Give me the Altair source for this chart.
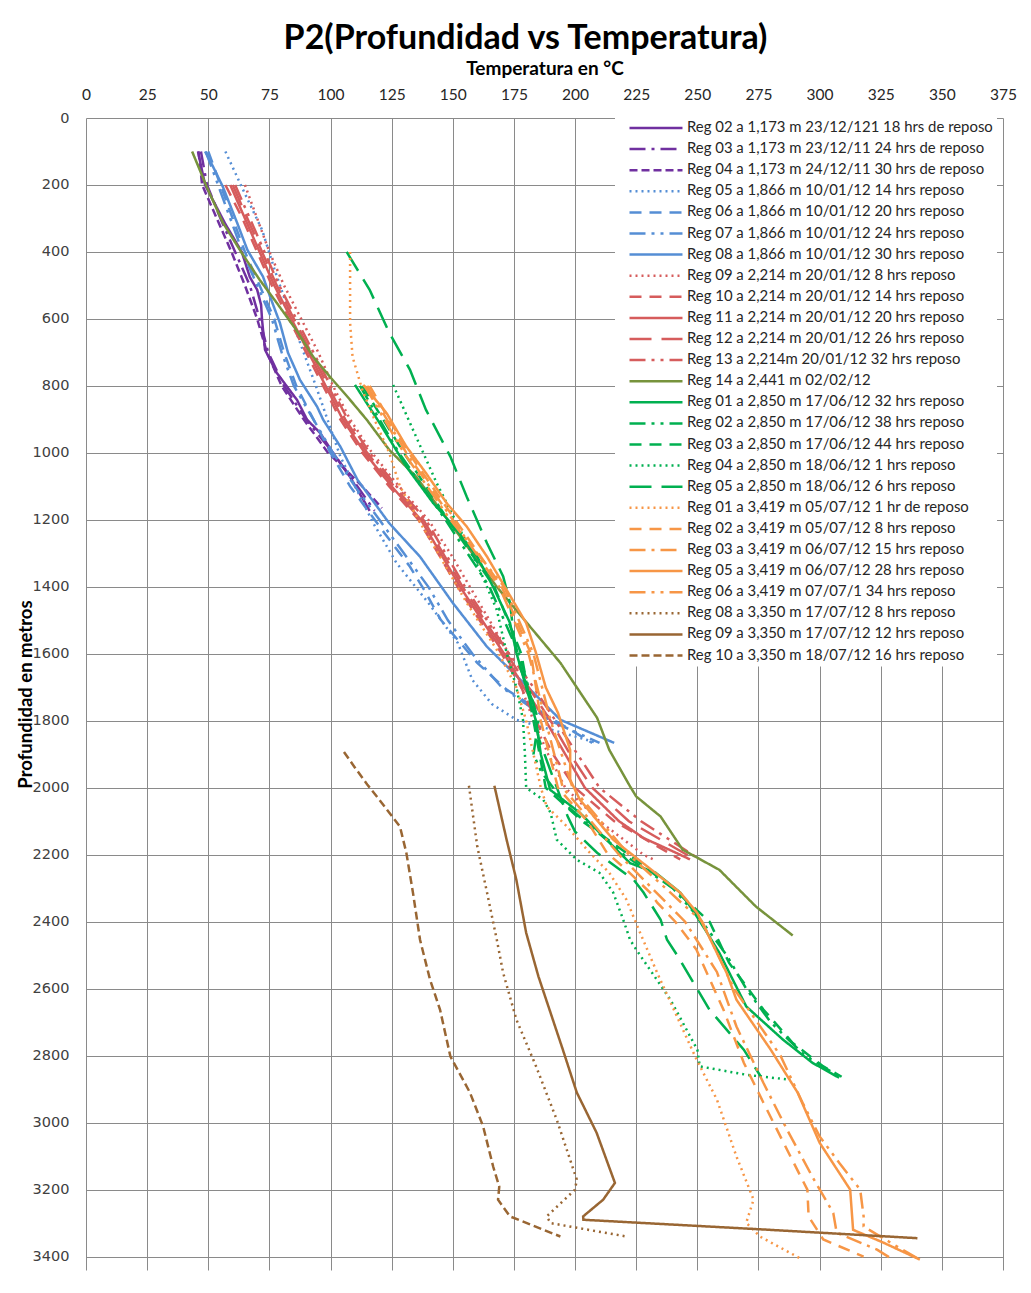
import altair as alt
import pandas as pd

CHART_TITLE = "P2(Profundidad vs Temperatura)"
X_TITLE = "Temperatura en °C"
Y_TITLE = "Profundidad en metros"

temp_ticks = list(range(0, 376, 25))
depth_ticks = list(range(0, 3401, 200))

series_labels = [
    "Reg 02 a 1,173 m 23/12/121 18 hrs de reposo",
    "Reg 03 a 1,173 m 23/12/11 24 hrs de reposo",
    "Reg 04 a 1,173 m 24/12/11 30 hrs de reposo",
    "Reg 05 a 1,866 m 10/01/12 14 hrs reposo",
    "Reg 06 a 1,866 m 10/01/12 20 hrs reposo",
    "Reg 07 a 1,866 m 10/01/12 24 hrs reposo",
    "Reg 08 a 1,866 m 10/01/12 30 hrs reposo",
    "Reg 09 a 2,214 m 20/01/12 8 hrs reposo",
    "Reg 10 a 2,214 m 20/01/12 14 hrs reposo",
    "Reg 11 a 2,214 m 20/01/12 20 hrs reposo",
    "Reg 12 a 2,214 m 20/01/12 26 hrs reposo",
    "Reg 13 a 2,214m 20/01/12 32 hrs reposo",
    "Reg 14 a 2,441 m 02/02/12",
    "Reg 01 a 2,850 m 17/06/12 32 hrs reposo",
    "Reg 02 a 2,850 m 17/06/12 38 hrs reposo",
    "Reg 03 a 2,850 m 17/06/12 44 hrs reposo",
    "Reg 04 a 2,850 m 18/06/12 1 hrs reposo",
    "Reg 05 a 2,850 m 18/06/12 6 hrs reposo",
    "Reg 01 a 3,419 m 05/07/12 1 hr de reposo",
    "Reg 02 a 3,419 m 05/07/12 8 hrs reposo",
    "Reg 03 a 3,419 m 06/07/12 15 hrs reposo",
    "Reg 05 a 3,419 m 06/07/12 28 hrs reposo",
    "Reg 06 a 3,419 m 07/07/1 34 hrs reposo",
    "Reg 08 a 3,350 m 17/07/12 8 hrs reposo",
    "Reg 09 a 3,350 m 17/07/12 12 hrs reposo",
    "Reg 10 a 3,350 m 18/07/12 16 hrs reposo",
]

PURPLE = "#7030A0"
BLUE = "#558ED5"
RED = "#D65C5C"
OLIVE = "#77933C"
GREEN = "#00B050"
ORANGE = "#F79646"
BROWN = "#996633"

series_colors = [PURPLE] * 3 + [BLUE] * 4 + [RED] * 5 + [OLIVE] + [GREEN] * 5 + [ORANGE] * 5 + [BROWN] * 3

SOLID = [1, 0]
DOT = [2, 4]
SYSDASH = [8, 4]
DASH = [12, 8]
LONGDASH = [22, 10]
DASHDOT = [16, 6, 3, 6]
DASHDOTDOT = [16, 6, 3, 6, 3, 6]

series_dashes = [
    SOLID, DASHDOT, SYSDASH,
    DOT, DASH, DASHDOTDOT, SOLID,
    DOT, DASH, SOLID, LONGDASH, DASHDOTDOT,
    SOLID,
    SOLID, DASHDOTDOT, DASH, DOT, LONGDASH,
    DOT, DASH, DASHDOT, SOLID, DASHDOTDOT,
    DOT, SOLID, SYSDASH,
]

# ---- series values (depth in m, temperature in degC) ----
depth_01 = [100, 200, 314, 400, 475, 513, 558, 603, 692, 761, 842, 901, 940, 1000, 1072, 1173]
temp_01 = [45.8, 48.7, 56.8, 63.7, 67, 70, 71.6, 72, 73.2, 78, 86.3, 90.4, 95.7, 101, 108, 116]

depth_02 = [100, 200, 300, 400, 500, 600, 700, 800, 900, 1000, 1100, 1173]
temp_02 = [47, 49.5, 55, 61, 67, 71, 74.5, 81, 90, 101, 111, 118]

depth_03 = [100, 200, 300, 400, 500, 600, 700, 800, 900, 1000, 1042, 1100, 1165]
temp_03 = [46, 47.5, 53.5, 59.5, 65, 70, 74, 80, 89, 99, 105, 113, 121]

depth_04 = [100, 206, 334, 450, 600, 800, 1011, 1210, 1329, 1448, 1567, 1678, 1750, 1797, 1830, 1866]
temp_04 = [57, 63.7, 72, 77, 84, 94, 104, 117.5, 127, 140, 152, 158, 166, 176, 192, 209]

depth_05 = [100, 200, 300, 400, 500, 600, 700, 800, 900, 1000, 1100, 1239, 1340, 1418, 1498, 1558, 1627, 1707, 1800, 1866]
temp_05 = [50, 55, 60, 65, 71, 77, 81, 86, 93, 100, 108, 122, 132.5, 139, 145, 152, 160, 172, 192, 207]

depth_06 = [100, 200, 300, 400, 500, 600, 700, 800, 900, 1000, 1100, 1200, 1300, 1400, 1500, 1600, 1700, 1800, 1866]
temp_06 = [49, 54, 59, 64, 70, 76, 80, 85, 93, 101, 110, 120, 130, 140, 148, 158, 170, 190, 210]

depth_07 = [100, 146, 206, 313, 394, 474, 534, 612, 701, 782, 862, 901, 981, 1080, 1210, 1310, 1448, 1579, 1680, 1797, 1866]
temp_07 = [48.7, 52, 56, 61.8, 66, 72.4, 75.3, 79.3, 82.6, 87.5, 94.5, 97, 104, 111, 124, 136.6, 150, 164, 178, 194, 216]

depth_08 = [200, 300, 400, 500, 600, 700, 800, 900, 1000, 1100, 1200, 1300, 1400, 1500, 1600, 1700, 1800, 1900, 2000, 2100, 2200, 2214]
temp_08 = [65, 70, 75, 81, 88, 95, 101, 108, 117, 128, 140, 149, 157, 165, 173, 178, 183, 189, 196, 210, 228, 232]

depth_09 = [200, 300, 400, 500, 600, 700, 800, 900, 1000, 1100, 1200, 1300, 1400, 1500, 1600, 1700, 1800, 1900, 2000, 2100, 2214]
temp_09 = [57, 64, 70, 76, 83, 90, 97, 104, 113, 124, 136, 144, 152, 161, 170, 178, 184, 191, 200, 216, 243]

depth_10 = [200, 300, 400, 500, 600, 700, 800, 900, 1000, 1100, 1200, 1300, 1400, 1500, 1600, 1700, 1800, 1900, 2000, 2100, 2150, 2200, 2214]
temp_10 = [59, 65, 71, 77, 84, 91, 98, 105, 114, 125, 137, 145, 153, 162, 171, 179, 188, 196, 204, 218, 228, 243, 247]

depth_11 = [200, 300, 400, 500, 600, 700, 800, 900, 1000, 1100, 1200, 1300, 1400, 1500, 1600, 1700, 1800, 1900, 2000, 2100, 2214]
temp_11 = [60, 66, 72, 78, 85, 92, 99, 106, 115, 126, 138, 146, 154, 163, 172, 181, 190, 198, 207, 222, 249]

depth_12 = [200, 300, 400, 500, 600, 700, 800, 900, 1000, 1100, 1200, 1300, 1400, 1500, 1600, 1700, 1800, 1900, 2000, 2100, 2214]
temp_12 = [61, 67, 73, 79, 86, 93, 100, 107, 116, 127, 139, 147, 155, 164, 173, 183, 192, 201, 210, 227, 251]

depth_13 = [100, 206, 313, 403, 483, 552, 633, 713, 773, 833, 901, 991, 1071, 1260, 1400, 1519, 1627, 1791, 1887, 1996, 2026, 2086, 2185, 2245, 2355, 2441]
temp_13 = [43.4, 49.4, 56, 63.7, 71, 78, 86, 92.9, 99.8, 107, 114.8, 124, 135, 154, 168, 181.6, 194, 209, 214, 222.5, 225, 235, 244, 259, 274, 289]

depth_14 = [797, 910, 1041, 1150, 1230, 1310, 1400, 1508, 1597, 1700, 1800, 1900, 2006, 2075, 2175, 2225, 2254, 2313, 2364, 2433, 2493, 2653, 2752, 2821, 2866]
temp_14 = [110, 120, 131, 142, 151.6, 160, 166.5, 173.4, 176, 180, 184, 186, 189.8, 202, 215.6, 222.5, 233, 243, 248, 254, 259, 270, 285, 297, 308]

depth_15 = [800, 1000, 1200, 1400, 1600, 1800, 1900, 1950, 2050, 2200, 2300, 2400, 2500, 2600, 2700, 2800, 2866]
temp_15 = [112, 128, 147, 165, 177, 185, 183, 186, 196, 220, 240, 252, 262, 270, 280, 294, 309]

depth_16 = [800, 1000, 1200, 1400, 1600, 1800, 2000, 2100, 2200, 2300, 2400, 2523, 2662, 2762, 2832, 2863]
temp_16 = [113, 130, 148, 167, 178, 183, 188, 203, 222, 240, 255, 263, 277, 289, 301.5, 309]

depth_17 = [797, 952, 1090, 1230, 1349, 1469, 1597, 1700, 1797, 1900, 2000, 2036, 2075, 2155, 2215, 2254, 2313, 2394, 2454, 2483, 2633, 2782, 2832, 2857, 2872]
temp_17 = [125.6, 135, 143.4, 153, 161, 168, 172, 176, 178.7, 179.5, 180, 187, 190, 192.5, 200.7, 210, 215.6, 219.7, 222.5, 225, 239, 250, 251, 270, 288]

depth_18 = [400, 513, 641, 752, 871, 1011, 1131, 1270, 1369, 1448, 1549, 1650, 1750, 1850, 1950, 2086, 2131, 2194, 2275, 2313, 2394, 2454, 2503, 2663, 2782, 2863]
temp_18 = [106.6, 116, 124, 132.5, 139, 149, 155.7, 164, 170.6, 173.4, 175, 178, 183, 185, 190, 197, 200, 209, 224, 228, 235, 237.6, 242, 255, 269, 276]

depth_19 = [400, 612, 713, 812, 901, 1000, 1100, 1200, 1310, 1448, 1588, 1700, 1800, 1900, 2000, 2056, 2115, 2194, 2254, 2334, 2433, 2553, 2812, 2931, 3101, 3230, 3299, 3340, 3409]
temp_19 = [108, 108, 109, 113, 118, 124, 128.4, 136, 144.8, 155.7, 168, 176, 180, 183, 186, 188.4, 196.6, 206, 214, 221, 226.6, 233.6, 249.7, 258, 266, 273, 270, 275.6, 293]

depth_20 = [800, 1000, 1200, 1400, 1600, 1800, 2000, 2100, 2194, 2245, 2313, 2343, 2400, 2483, 2663, 2821, 2940, 3081, 3200, 3280, 3349, 3400]
temp_20 = [116, 132, 151, 170, 182, 186, 193, 205, 213, 221, 230.7, 233.6, 241, 249.6, 260.7, 269, 277, 286.7, 295, 295.5, 301.5, 318]

depth_21 = [800, 1000, 1200, 1400, 1600, 1800, 2000, 2200, 2400, 2550, 2713, 2881, 3021, 3161, 3270, 3329, 3379, 3409]
temp_21 = [115, 131, 150, 169, 181, 188, 195, 218, 245, 258, 266, 277, 286.7, 297, 305.6, 307, 323.5, 330]

depth_22 = [797, 882, 981, 1060, 1150, 1220, 1310, 1409, 1508, 1597, 1700, 1776, 1887, 1976, 2036, 2155, 2235, 2313, 2374, 2433, 2553, 2633, 2782, 2910, 3060, 3200, 3320, 3358, 3409]
temp_22 = [113.4, 123, 131, 139, 147.5, 155.7, 164, 172, 180, 184, 188, 193, 198, 198, 202, 215.6, 229.5, 243, 250, 254, 262, 266, 280, 291, 300, 312.5, 313.7, 326, 341]

depth_23 = [800, 1000, 1200, 1400, 1600, 1800, 2000, 2200, 2400, 2600, 2800, 2940, 3041, 3120, 3200, 3280, 3310, 3370, 3409]
temp_23 = [114, 130, 149, 171, 183, 190, 199, 222, 252, 265, 284, 293, 300, 308, 316.6, 318, 318, 331.7, 341]

depth_24 = [1994, 2175, 2313, 2454, 2553, 2692, 2831, 2991, 3170, 3200, 3280, 3300, 3340]
temp_24 = [156.6, 160, 164, 168, 170.6, 176, 184, 192.5, 200.7, 200, 188.4, 190, 221]

depth_25 = [1994, 2155, 2275, 2433, 2563, 2782, 2910, 3030, 3180, 3230, 3280, 3290, 3319, 3345]
temp_25 = [167, 172, 176, 180, 185, 195, 200.7, 208.8, 216.3, 211.5, 203.3, 203.4, 277, 340]

depth_26 = [1893, 1940, 1990, 2036, 2116, 2194, 2313, 2454, 2573, 2663, 2802, 2910, 3011, 3131, 3191, 3230, 3280, 3340]
temp_26 = [105.5, 110, 115, 120, 128.4, 131, 133.7, 136.6, 140.7, 144.8, 149, 157, 162.4, 166.5, 169, 168.5, 173.4, 194]

depths = [depth_01, depth_02, depth_03, depth_04, depth_05, depth_06, depth_07, depth_08, depth_09,
          depth_10, depth_11, depth_12, depth_13, depth_14, depth_15, depth_16, depth_17, depth_18,
          depth_19, depth_20, depth_21, depth_22, depth_23, depth_24, depth_25, depth_26]
temps = [temp_01, temp_02, temp_03, temp_04, temp_05, temp_06, temp_07, temp_08, temp_09,
         temp_10, temp_11, temp_12, temp_13, temp_14, temp_15, temp_16, temp_17, temp_18,
         temp_19, temp_20, temp_21, temp_22, temp_23, temp_24, temp_25, temp_26]

rows = []
for lab, ds, ts in zip(series_labels, depths, temps):
    for i, (d, t) in enumerate(zip(ds, ts)):
        rows.append({"serie": lab, "i": i, "depth": d, "temp": t})
df = pd.DataFrame(rows)

leg = alt.Legend(
    title=None,
    orient="none",
    legendX=529,
    legendY=-4.5,
    symbolType="M0,0H6",
    symbolSize=312,
    symbolStrokeWidth=2.5,
    labelFont="Lato",
    labelFontSize=14.9,
    labelColor="#262626",
    labelLimit=400,
    labelOffset=47,
    rowPadding=3.1,
    padding=4,
    fillColor="white",
)

chart = alt.Chart(df).mark_line(strokeWidth=2.5, clip=True).encode(
    x=alt.X(
        "temp:Q",
        scale=alt.Scale(domain=[0, 375], nice=False, zero=False),
        axis=alt.Axis(
            orient="top", values=temp_ticks, title=X_TITLE, format="d",
            labelFont="Lato", labelFontSize=15.5, labelColor="#262626",
            ticks=False, domain=False, labelPadding=16, labelFlush=False,
            titleFont="Lato", titleFontSize=19, titleFontWeight="bold",
            titleColor="black", titlePadding=9,
            gridColor="#8a8a8a", gridWidth=1,
        ),
    ),
    y=alt.Y(
        "depth:Q",
        scale=alt.Scale(domain=[0, 3440], reverse=True, nice=False, zero=False),
        axis=alt.Axis(
            values=depth_ticks, title=Y_TITLE, format="d",
            labelFont="DejaVu Sans", labelFontSize=14.5, labelColor="#404040",
            ticks=False, domain=False, labelPadding=17, labelFlush=False,
            titleFont="Lato", titleFontSize=18.5, titleFontWeight="bold",
            titleColor="black", titleAngle=270, titleX=-61, titleY=576,
            titleAlign="center", titleBaseline="middle",
            gridColor="#8a8a8a", gridWidth=1,
        ),
    ),
    color=alt.Color("serie:N", scale=alt.Scale(domain=series_labels, range=series_colors), legend=leg),
    strokeDash=alt.StrokeDash("serie:N", scale=alt.Scale(domain=series_labels, range=series_dashes), legend=leg),
    order=alt.Order("i:Q"),
).properties(
    width=917,
    height=1152,
    title=alt.Title(CHART_TITLE, font="Lato", fontSize=34, fontWeight="bold", color="black",
                    anchor="middle", frame="group", offset=3, dx=-19),
    autosize=alt.AutoSizeParams(type="none"),
    padding={"left": 78, "top": 110, "right": 20, "bottom": 15},
).configure_view(strokeWidth=0)

chart.save("out.html", embed_options={"renderer": "svg", "actions": False})
